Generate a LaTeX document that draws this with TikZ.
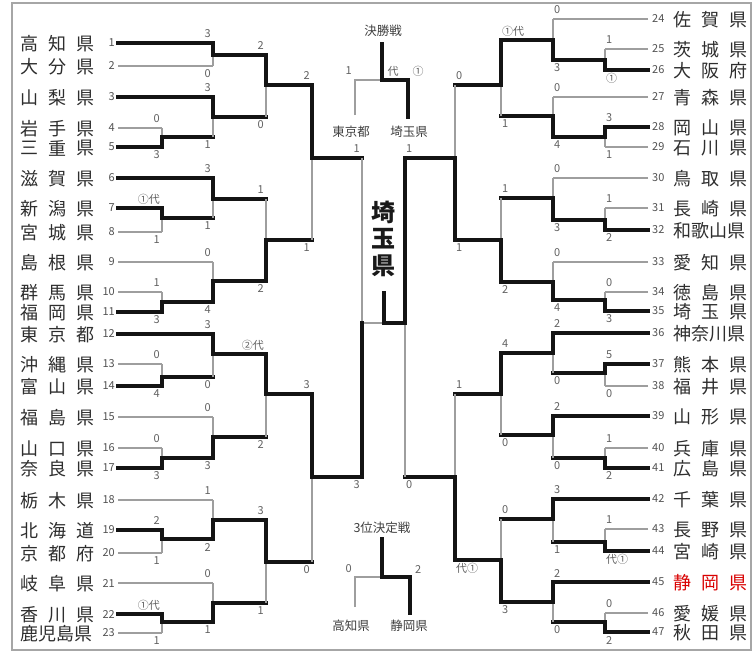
\documentclass[tikz,border=0pt]{standalone}
\usepackage{fontspec}
\setmainfont{Noto Sans CJK JP}
\newcount\nodecnt
\newcommand\MT[5]{\draw[thinl] (#1,#4) -- (#1,#3); \draw[thickl] (#1,#2) -- (#1,#4) -- (#5,#4);}
\newcommand\MB[5]{\draw[thinl] (#1,#4) -- (#1,#2); \draw[thickl] (#1,#3) -- (#1,#4) -- (#5,#4);}
\newcommand\LS[5]{\global\advance\nodecnt by 1 \node[score,anchor=east] (s\the\nodecnt) at (#1-2,#2-9) {#4};%
 \global\advance\nodecnt by 1 \node[score,anchor=east] (s\the\nodecnt) at (#1-2,#3+8) {#5};}
\newcommand\RS[5]{\global\advance\nodecnt by 1 \node[score,anchor=west] (s\the\nodecnt) at (#1+1,#2-9) {#4};%
 \global\advance\nodecnt by 1 \node[score,anchor=west] (s\the\nodecnt) at (#1+1,#3+8) {#5};}
\begin{document}
\begin{tikzpicture}[x=1pt,y=-1pt,
  thinl/.style={draw=black!38, line width=1.1pt},
  thickl/.style={draw=black!92, line width=3.4pt, line cap=rect, line join=miter},
  score/.style={font=\fontsize{11}{11}\selectfont, text=black!62, inner sep=0pt},
  tnum/.style={font=\fontsize{11}{11}\selectfont, text=black!68, inner sep=0pt},
  tname/.style={font=\fontsize{18}{18}\selectfont, text=black!82, inner sep=0pt},
  ctext/.style={font=\fontsize{12.5}{12.5}\selectfont, text=black!75, inner sep=0pt},
  big/.style={font=\fontsize{24}{24}\selectfont\bfseries, text=black!90, inner sep=0pt}]
\fill[white] (0,0) rectangle (755,653);
\useasboundingbox (0,0) rectangle (755,653);
\draw[black!35, line width=1.2pt] (12,3) rectangle (751,650);

% ---------- left teams ----------
\foreach \n/\y/\e/\w/\a/\b/\c in {
1/43/213/1/高/知/県, 2/66/213/0/大/分/県, 3/97/213/1/山/梨/県, 4/128/162/0/岩/手/県,
5/147/162/1/三/重/県, 6/178/213/1/滋/賀/県, 7/208/162/1/新/潟/県, 8/232/162/0/宮/城/県,
9/262/213/0/島/根/県, 10/292/162/0/群/馬/県, 11/312/162/1/福/岡/県, 12/334/213/1/東/京/都,
13/364/162/0/沖/縄/県, 14/386/162/1/富/山/県, 15/417/213/0/福/島/県, 16/448/162/0/山/口/県,
17/468/162/1/奈/良/県, 18/500/213/0/栃/木/県, 19/530/162/1/北/海/道, 20/553/162/0/京/都/府,
21/583/213/0/岐/阜/県, 22/614/162/1/香/川/県}
{
 \ifnum\w=1 \draw[thickl] (118,\y) -- (\e,\y); \else \draw[thinl] (118,\y) -- (\e,\y); \fi
 \node[tnum,anchor=east] (Ln\n) at (115,\y) {\n};
 \node[tname] (La\n) at (29,\y+1) {\a};
 \node[tname] (Lb\n) at (57,\y+1) {\b};
 \node[tname] (Lc\n) at (85,\y+1) {\c};
}
\draw[thinl] (118,633) -- (162,633);
\node[tnum,anchor=east] (Ln23) at (115,633) {23};
\node[tname,anchor=west] (La23) at (20,634) {鹿児島県};

% ---------- right teams ----------
\foreach \n/\y/\e/\w/\a/\b/\c in {
24/19/553/0/佐/賀/県, 25/49/605/0/茨/城/県, 26/70/605/1/大/阪/府, 27/97/553/0/青/森/県,
28/127/605/1/岡/山/県, 29/147/605/0/石/川/県, 30/178/553/0/鳥/取/県, 31/208/605/0/長/崎/県,
33/262/553/0/愛/知/県, 34/292/605/0/徳/島/県, 35/311/605/1/埼/玉/県,
37/364/605/1/熊/本/県, 38/386/605/0/福/井/県, 39/416/553/1/山/形/県, 40/448/605/0/兵/庫/県,
41/468/605/1/広/島/県, 42/499/553/1/千/葉/県, 43/529/605/0/長/野/県, 44/551/605/1/宮/崎/県,
46/613/605/0/愛/媛/県, 47/632/605/1/秋/田/県}
{
 \ifnum\w=1 \draw[thickl] (648,\y) -- (\e,\y); \else \draw[thinl] (648,\y) -- (\e,\y); \fi
 \node[tnum,anchor=west] (Rn\n) at (652,\y) {\n};
 \node[tname] (Ra\n) at (682,\y+1) {\a};
 \node[tname] (Rb\n) at (710,\y+1) {\b};
 \node[tname] (Rc\n) at (738,\y+1) {\c};
}
\draw[thickl] (648,230) -- (605,230);
\node[tnum,anchor=west] (Rn32) at (652,230) {32};
\node[tname,anchor=west] (Ra32) at (673,231) {和歌山県};
\draw[thickl] (648,333) -- (553,333);
\node[tnum,anchor=west] (Rn36) at (652,333) {36};
\node[tname,anchor=west] (Ra36) at (673,334) {神奈川県};
\draw[thickl] (648,582) -- (553,582);
\node[tnum,anchor=west] (Rn45) at (652,582) {45};
\node[tname,text=red!85!black] (Ra45) at (682,583) {静};
\node[tname,text=red!85!black] (Rb45) at (710,583) {岡};
\node[tname,text=red!85!black] (Rc45) at (738,583) {県};

% ---------- left bracket ----------
\MB{162}{128}{147}{137}{213} \MT{162}{208}{232}{218}{213} \MB{162}{292}{312}{302}{213}
\MB{162}{364}{386}{377}{213} \MB{162}{448}{468}{458}{213} \MT{162}{530}{553}{539}{213}
\MT{162}{614}{633}{622}{213}
\MT{213}{43}{66}{55}{266} \MT{213}{97}{137}{117}{266} \MT{213}{178}{218}{199}{266}
\MB{213}{262}{302}{281}{266} \MT{213}{334}{377}{354}{266} \MB{213}{417}{458}{437}{266}
\MB{213}{500}{539}{520}{266} \MB{213}{583}{622}{603}{266}
\MT{266}{55}{117}{85}{312} \MB{266}{199}{281}{240}{312}
\MT{266}{354}{437}{394}{312} \MT{266}{520}{603}{562}{312}
\MT{312}{85}{240}{158}{362} \MT{312}{394}{562}{477}{362}
\draw[thinl] (362,158) -- (362,323) -- (384,323);
\draw[thickl] (362,477) -- (362,323);

% ---------- right bracket ----------
\MB{605}{49}{70}{60}{553} \MT{605}{127}{147}{137}{553} \MB{605}{208}{230}{220}{553}
\MB{605}{292}{311}{300}{553} \MT{605}{364}{386}{373}{553} \MB{605}{448}{468}{458}{553}
\MB{605}{529}{551}{542}{553} \MB{605}{613}{632}{622}{553}
\MB{553}{19}{60}{40}{501} \MB{553}{97}{137}{116}{501} \MB{553}{178}{220}{198}{501}
\MB{553}{262}{300}{282}{501} \MT{553}{333}{373}{353}{501} \MT{553}{416}{458}{435}{501}
\MT{553}{499}{542}{519}{501} \MT{553}{582}{622}{602}{501}
\MT{501}{40}{116}{85}{455} \MB{501}{198}{282}{240}{455}
\MT{501}{353}{435}{394}{455} \MB{501}{519}{602}{560}{455}
\MB{455}{85}{240}{158}{405} \MB{455}{394}{560}{477}{405}
\draw[thinl] (405,323) -- (405,477);
\draw[thickl] (405,158) -- (405,323) -- (384,323) -- (384,293);

% ---------- scores ----------
\LS{162}{128}{147}{0}{3} \LS{162}{208}{232}{①代}{1} \LS{162}{292}{312}{1}{3}
\LS{162}{364}{386}{0}{4} \LS{162}{448}{468}{0}{3} \LS{162}{530}{553}{2}{1}
\LS{162}{614}{633}{①代}{1}
\LS{213}{43}{66}{3}{0} \LS{213}{97}{137}{3}{1} \LS{213}{178}{218}{3}{1}
\LS{213}{262}{302}{0}{4} \LS{213}{334}{377}{3}{0} \LS{213}{417}{458}{0}{3}
\LS{213}{500}{539}{1}{2} \LS{213}{583}{622}{0}{1}
\LS{266}{55}{117}{2}{0} \LS{266}{199}{281}{1}{2} \LS{266}{354}{437}{②代}{2} \LS{266}{520}{603}{3}{1}
\LS{312}{85}{240}{2}{1} \LS{312}{394}{562}{3}{0}
\LS{362}{158}{477}{1}{3}
\RS{605}{49}{70}{1}{①} \RS{605}{127}{147}{3}{1} \RS{605}{208}{230}{1}{2}
\RS{605}{292}{311}{0}{3} \RS{605}{364}{386}{5}{0} \RS{605}{448}{468}{1}{2}
\RS{605}{529}{551}{1}{代①} \RS{605}{613}{632}{0}{2}
\RS{553}{19}{60}{0}{3} \RS{553}{97}{137}{0}{4} \RS{553}{178}{220}{0}{3}
\RS{553}{262}{300}{0}{4} \RS{553}{333}{373}{2}{0} \RS{553}{416}{458}{2}{0}
\RS{553}{499}{542}{3}{1} \RS{553}{582}{622}{2}{0}
\RS{501}{40}{116}{①代}{1} \RS{501}{198}{282}{1}{2} \RS{501}{353}{435}{4}{0} \RS{501}{519}{602}{0}{3}
\RS{455}{85}{240}{0}{1} \RS{455}{394}{560}{1}{代①}
\RS{405}{158}{477}{1}{0}

% ---------- centre ----------
\node[ctext] (fin) at (383,31) {決勝戦};
\draw[thinl] (355,115) -- (355,80) -- (382,80);
\draw[thickl] (382,44) -- (382,80) -- (408,80) -- (408,117);
\node[score,anchor=east] (f1) at (352,71) {1};
\node[score] (f2) at (393,71) {代};
\node[score] (f3) at (418,71) {①};
\node[ctext] (fa) at (351,132) {東京都};
\node[ctext] (fb) at (409,132) {埼玉県};
\node[big] (c1) at (383,212) {埼};
\node[big] (c2) at (383,239) {玉};
\node[big] (c3) at (383,266) {県};

\node[ctext] (thr) at (382,528) {3位決定戦};
\draw[thinl] (355,607) -- (355,577) -- (382,577);
\draw[thickl] (382,539) -- (382,577) -- (410,577) -- (410,613);
\node[score,anchor=east] (t1) at (352,569) {0};
\node[score,anchor=west] (t2) at (415,569) {2};
\node[ctext] (ta) at (351,626) {高知県};
\node[ctext] (tb) at (409,626) {静岡県};
\end{tikzpicture}
\end{document}
